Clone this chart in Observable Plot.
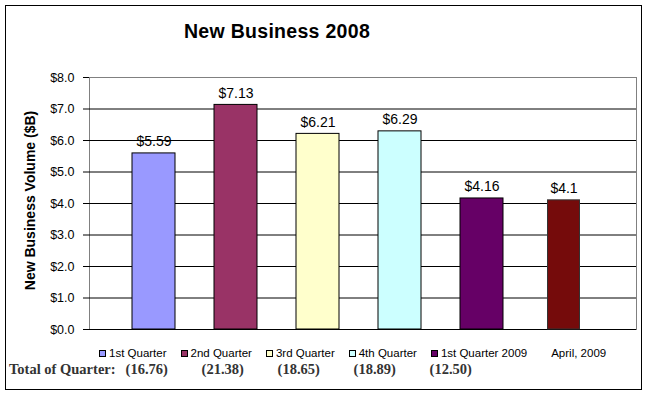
<!DOCTYPE html>
<html><head><meta charset="utf-8">
<script src="https://cdn.jsdelivr.net/npm/d3@7"></script>
<script src="https://cdn.jsdelivr.net/npm/@observablehq/plot@0.6"></script>
<style>
body{margin:0;background:#fff;}
#wrap{position:relative;width:650px;height:395px;overflow:hidden;font-family:"Liberation Sans",Arial,sans-serif;color:#000;}
#border{position:absolute;left:5px;top:5px;width:637px;height:385px;border:1px solid #000;box-sizing:border-box;}
#title{position:absolute;left:0;width:554px;top:21px;text-align:center;font-weight:bold;font-size:19.5px;letter-spacing:0.3px;line-height:20px;}
#chart{position:absolute;left:0;top:0;}
#legend{position:absolute;left:99px;top:346px;display:flex;gap:14px;align-items:center;font-size:11.5px;line-height:14px;}
#legend .item{display:flex;align-items:center;gap:3px;}
#legend .sw{width:7px;height:7px;border:1px solid #000;box-sizing:border-box;}
#legend .sw.none{border:none;}
#foot{position:absolute;left:9px;top:360px;font-family:"Liberation Serif","Times New Roman",serif;font-weight:bold;font-size:14.5px;line-height:18px;color:#333;white-space:nowrap;display:flex;}
#foot span.t{display:inline-block;width:76px;}
svg text.val{letter-spacing:0.3px;}
svg text.ytitle{letter-spacing:1px;}
svg text.ytl{letter-spacing:0.9px;}
</style></head>
<body>
<div id="wrap">
  <div id="border"></div>
  <div id="chart"></div>
  <div id="title">New Business 2008</div>
  <div id="legend"></div>
  <div id="foot"></div>
</div>
<script>
const categories = ["1st Quarter","2nd Quarter","3rd Quarter","4th Quarter","1st Quarter 2009","April, 2009"];
const values = [5.59, 7.13, 6.21, 6.29, 4.16, 4.1];
const colors = ["#9999FF","#993366","#FFFFCC","#CCFFFF","#660066","#750B0B"];
const totalsLabel = "Total of Quarter:";
const totals = ["(16.76)","(21.38)","(18.65)","(18.89)","(12.50)"];
const yTicks = [0,1,2,3,4,5,6,7,8];
const yTitle = "New Business Volume ($B)";

const data = categories.map((c,i)=>({category:c, value:values[i], color:colors[i]}));
const main = data.filter(d => d.category !== "April, 2009");
const april = data.filter(d => d.category === "April, 2009");

const plot = Plot.plot({
  width:650, height:340,
  marginLeft:89, marginRight:14, marginTop:77, marginBottom:11,
  style:{fontFamily:"'Liberation Sans', Arial, sans-serif", background:"transparent", color:"#000", overflow:"visible"},
  x:{type:"band", domain:categories, range:[111,606], paddingInner:0.478, paddingOuter:0.239, axis:null},
  y:{domain:[0,8], axis:null},
  marks:[
    Plot.frame({stroke:"#808080"}),
    Plot.ruleY(yTicks.filter(d=>d<8), {stroke:"#000"}),
    Plot.axisY({ticks:yTicks, tickSize:6, tickPadding:9, line:true, tickFormat:d=>"$"+d.toFixed(1), fontSize:12.5, label:null, className:"ytl"}),
    Plot.barY(main, {x:"category", y:"value", fill:"color", stroke:"#000", strokeWidth:1}),
    Plot.barY(april, {x:"category", y:"value", fill:"color", stroke:"#333", strokeWidth:1, insetLeft:5.5, insetRight:5.5}),
    Plot.text(data, {x:"category", y:"value", text:d=>"$"+d.value, dy:-7, lineAnchor:"bottom", fontSize:14, fill:"#000", className:"val"}),
    Plot.text([yTitle], {frameAnchor:"left", textAnchor:"middle", rotate:-90, dx:-59, dy:-3, fontWeight:"bold", fontSize:14, fill:"#000", className:"ytitle"})
  ]
});
document.getElementById("chart").appendChild(plot);

const legend = d3.select("#legend");
categories.forEach((c,i)=>{
  const it = legend.append("div").attr("class","item");
  const sw = it.append("div").attr("class", i===categories.length-1 ? "sw none" : "sw");
  if (i!==categories.length-1) sw.style("background", colors[i]);
  it.append("span").text(c);
});

const foot = d3.select("#foot");
foot.append("span").style("margin-right","10px").text(totalsLabel);
totals.forEach(t => foot.append("span").attr("class","t").text(t));
</script>
</body></html>
